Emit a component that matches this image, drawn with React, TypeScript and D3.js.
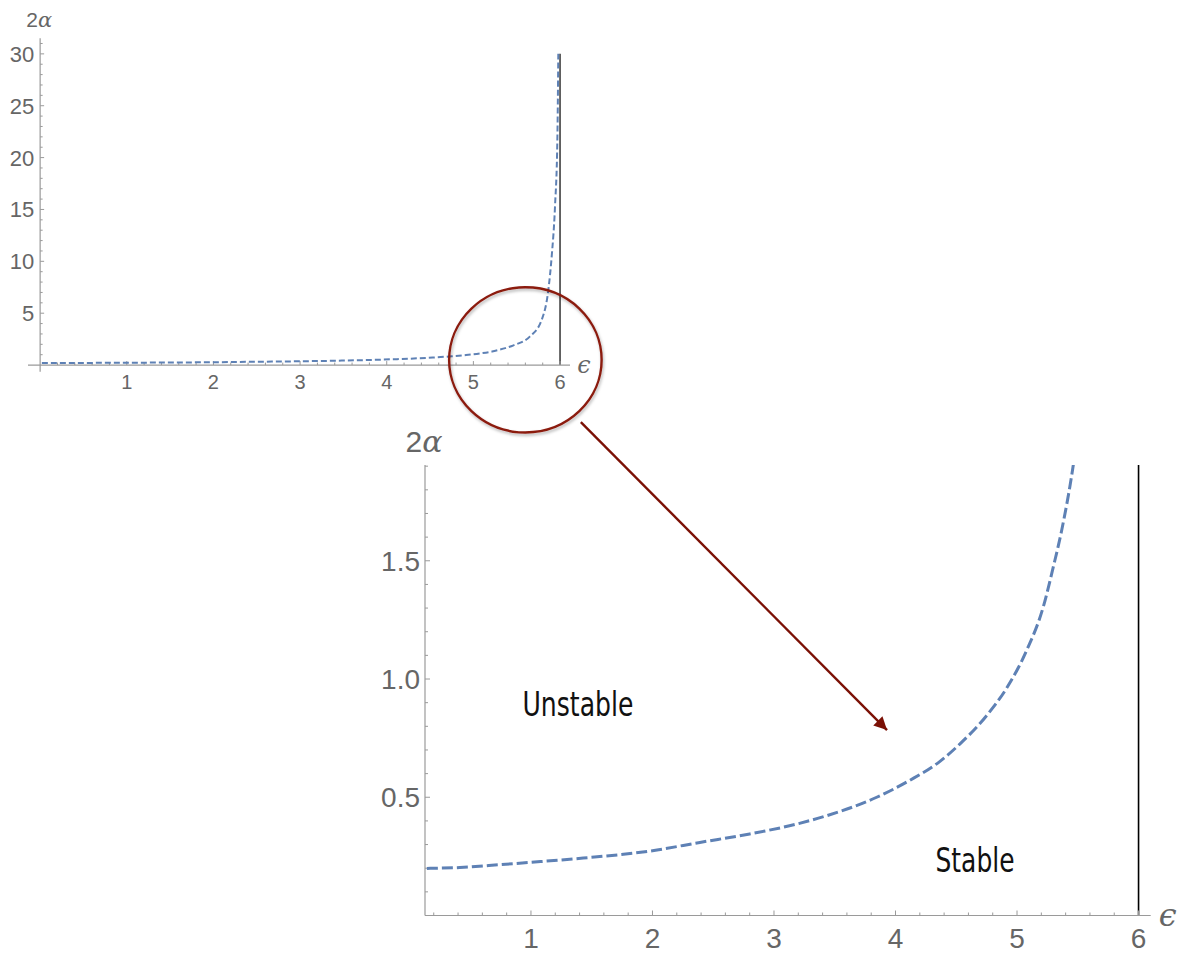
import React, { useEffect, useRef } from "react";
import * as d3 from "d3";

// stability boundary 2α(ε)
const eps = [0.02, 0.128, 0.415, 0.745, 1.0, 1.43, 2.0, 2.39, 2.8, 3.19, 3.434, 3.845, 4.119, 4.366, 4.531, 4.751, 4.915, 5.08, 5.216, 5.299, 5.368, 5.463, 5.654, 5.789, 5.865, 5.904, 5.942, 5.969, 5.98];
const twoAlpha = [0.198, 0.199, 0.203, 0.215, 0.225, 0.243, 0.274, 0.309, 0.345, 0.387, 0.422, 0.5, 0.572, 0.652, 0.726, 0.846, 0.962, 1.122, 1.305, 1.475, 1.63, 1.905, 2.77, 4.37, 7.25, 10.5, 15.3, 21.7, 30];

const asymptote = 6;

// overview panel ticks
const topXTicks = [1, 2, 3, 4, 5, 6];
const topYTicks = [5, 10, 15, 20, 25, 30];
// zoomed panel ticks
const zoomXTicks = [1, 2, 3, 4, 5, 6];
const zoomYTicks = [0.5, 1.0, 1.5];

const regionLabels = ["Unstable", "Stable"];
const regionEps = [1.387, 4.654];
const regionAlpha = [0.894, 0.235];

// magnifier annotation (overview coords) and arrow (overview -> zoom coords)
const lensCenter = [5.6, 0.5];
const lensRadius = [0.88, 7.0];
const arrowFrom = [6.24, -5.5];
const arrowTo = [3.93, 0.784];

const BLUE = "#5e81b5";
const GRAY = "#666";
const FONT = "'Liberation Sans', Arial, sans-serif";

export default function App() {
  const ref = useRef<SVGSVGElement>(null);

  useEffect(() => {
    const svg = d3.select(ref.current);
    svg.selectAll("*").remove();
    const defs = svg.append("defs");
    const pts = eps.map((e, i) => [e, twoAlpha[i]] as [number, number]);

    const isMajor = (v: number, step: number) => Math.abs(v / step - Math.round(v / step)) < 1e-6;

    function panel(cfg: any) {
      const { x, y, id, ox } = cfg;
      const g = svg.append("g");
      const [xl, xr] = x.range();
      const [yb, yt] = y.range();

      defs.append("clipPath").attr("id", id)
        .append("rect").attr("x", x(ox)).attr("y", yt).attr("width", xr - x(ox)).attr("height", y(0) - yt + 2);

      // asymptote
      g.append("line")
        .attr("x1", x(asymptote)).attr("x2", x(asymptote))
        .attr("y1", y(0)).attr("y2", y(cfg.asymTop))
        .attr("stroke", "#000").attr("stroke-width", cfg.asymW);

      // axes
      g.append("line").attr("x1", xl).attr("x2", xr).attr("y1", y(0)).attr("y2", y(0))
        .attr("stroke", "#9a9a9a").attr("stroke-width", 1.2);
      g.append("line").attr("x1", x(ox)).attr("x2", x(ox)).attr("y1", yb).attr("y2", yt)
        .attr("stroke", "#9a9a9a").attr("stroke-width", 1.2);

      const xMinor = d3.range(cfg.xMinorStep, asymptote + 1e-6, cfg.xMinorStep).filter((v) => v > ox && !isMajor(v, 1));
      const yMinor = d3.range(cfg.yMinorStep, y.domain()[1], cfg.yMinorStep).filter((v) => !isMajor(v, cfg.yMajorStep));

      g.selectAll(null).data(xMinor).join("line")
        .attr("x1", (d) => x(d)).attr("x2", (d) => x(d))
        .attr("y1", y(0)).attr("y2", y(0) - cfg.minorLen)
        .attr("stroke", "#9a9a9a");
      g.selectAll(null).data(cfg.xTicks).join("line")
        .attr("x1", (d: number) => x(d)).attr("x2", (d: number) => x(d))
        .attr("y1", y(0)).attr("y2", y(0) - cfg.majorLen)
        .attr("stroke", "#9a9a9a");
      g.selectAll(null).data(yMinor).join("line")
        .attr("x1", x(ox)).attr("x2", x(ox) + cfg.minorLen)
        .attr("y1", (d) => y(d)).attr("y2", (d) => y(d))
        .attr("stroke", "#9a9a9a");
      g.selectAll(null).data(cfg.yTicks).join("line")
        .attr("x1", x(ox)).attr("x2", x(ox) + cfg.majorLen)
        .attr("y1", (d: number) => y(d)).attr("y2", (d: number) => y(d))
        .attr("stroke", "#9a9a9a");

      g.selectAll(null).data(cfg.xTicks).join("text")
        .attr("x", (d: number) => x(d)).attr("y", y(0) + cfg.xLabelDy)
        .attr("text-anchor", "middle").attr("fill", GRAY)
        .attr("font-family", FONT).attr("font-size", cfg.xFs)
        .text((d: number) => d);
      g.selectAll(null).data(cfg.yTicks).join("text")
        .attr("x", x(ox) - cfg.yLabelGap).attr("y", (d: number) => y(d) + cfg.yLabelDy)
        .attr("text-anchor", "end").attr("fill", GRAY)
        .attr("font-family", FONT).attr("font-size", cfg.yFs)
        .text((d: number) => cfg.yFmt(d));

      // axis labels
      const yl = g.append("text").attr("x", x(ox) + cfg.yTitleDx).attr("y", yt + cfg.yTitleDy)
        .attr("text-anchor", "middle").attr("fill", GRAY)
        .attr("font-family", FONT).attr("font-size", cfg.titleFs);
      yl.append("tspan").text("2");
      yl.append("tspan").attr("font-style", "italic").attr("font-family", "'DejaVu Serif', serif").text("α");
      g.append("text").attr("x", xr + cfg.xTitleDx).attr("y", y(0) + cfg.xTitleDy)
        .attr("text-anchor", "middle").attr("fill", GRAY)
        .attr("font-family", "'DejaVu Serif', serif").attr("font-style", "italic")
        .attr("font-size", cfg.epsFs).text("ϵ");

      // curve
      g.append("path").datum(pts)
        .attr("clip-path", `url(#${id})`)
        .attr("d", d3.line<[number, number]>().x((d) => x(d[0])).y((d) => y(d[1])).curve(d3.curveMonotoneX))
        .attr("fill", "none").attr("stroke", BLUE)
        .attr("stroke-width", cfg.curveW).attr("stroke-dasharray", cfg.dash);
      return g;
    }

    const xTop = d3.scaleLinear().domain([-0.14, 6.115]).range([28, 570]);
    const yTop = d3.scaleLinear().domain([-0.64, 31.5]).range([371.7, 38.3]);
    panel({
      x: xTop, y: yTop, id: "clipTop", ox: 0,
      asymTop: 30, asymW: 1.2,
      xTicks: topXTicks, yTicks: topYTicks, xMinorStep: 0.2, yMinorStep: 1, yMajorStep: 5,
      majorLen: 4, minorLen: 2.5,
      xFs: 20, yFs: 22, titleFs: 21, epsFs: 24, xLabelDy: 24, yLabelGap: 6, yLabelDy: 8,
      yFmt: (d: number) => d, yTitleDx: -1, yTitleDy: -11, xTitleDx: 14, xTitleDy: 8,
      curveW: 2, dash: "6,3",
    });

    const xZoom = d3.scaleLinear().domain([0.128, 6.1]).range([425, 1150.7]);
    const yZoom = d3.scaleLinear().domain([0, 1.905]).range([915.5, 465]);
    const gz = panel({
      x: xZoom, y: yZoom, id: "clipZoom", ox: 0.128,
      asymTop: 1.905, asymW: 1.6,
      xTicks: zoomXTicks, yTicks: zoomYTicks, xMinorStep: 0.2, yMinorStep: 0.1, yMajorStep: 0.5,
      majorLen: 5, minorLen: 3,
      xFs: 28, yFs: 28, titleFs: 30, epsFs: 32, xLabelDy: 32, yLabelGap: 5, yLabelDy: 10,
      yFmt: d3.format(".1f"), yTitleDx: -1, yTitleDy: -13, xTitleDx: 17, xTitleDy: 10,
      curveW: 3, dash: "11,4",
    });

    const labelWidths = [111, 79];
    gz.selectAll(null).data(regionLabels).join("text")
      .attr("x", (_, i) => xZoom(regionEps[i]) - labelWidths[i] / 2).attr("y", (_, i) => yZoom(regionAlpha[i]))
      .attr("dominant-baseline", "central")
      .attr("textLength", (_, i) => labelWidths[i]).attr("lengthAdjust", "spacingAndGlyphs")
      .attr("font-family", "'DejaVu Sans', sans-serif")
      .attr("font-size", 34).attr("fill", "#111")
      .text((d) => d);

    // magnifier lens
    const shadow = defs.append("filter").attr("id", "lensShadow").attr("x", "-20%").attr("y", "-20%").attr("width", "140%").attr("height", "140%");
    shadow.append("feDropShadow").attr("dx", 1).attr("dy", 2).attr("stdDeviation", 1.5)
      .attr("flood-color", "#000").attr("flood-opacity", 0.3);
    svg.append("ellipse")
      .attr("cx", xTop(lensCenter[0])).attr("cy", yTop(lensCenter[1]))
      .attr("rx", xTop(lensCenter[0] + lensRadius[0]) - xTop(lensCenter[0]))
      .attr("ry", yTop(lensCenter[1]) - yTop(lensCenter[1] + lensRadius[1]))
      .attr("fill", "none").attr("stroke", "#8b1a10").attr("stroke-width", 2.4)
      .attr("filter", "url(#lensShadow)");

    // arrow
    const marker = defs.append("marker").attr("id", "arrowHead")
      .attr("viewBox", "0 0 10 10").attr("refX", 10).attr("refY", 5)
      .attr("markerUnits", "userSpaceOnUse").attr("markerWidth", 17).attr("markerHeight", 13)
      .attr("orient", "auto");
    marker.append("path").attr("d", "M0,0 L10,5 L0,10 Z").attr("fill", "#7b1005");
    svg.append("line")
      .attr("x1", xTop(arrowFrom[0])).attr("y1", yTop(arrowFrom[1]))
      .attr("x2", xZoom(arrowTo[0])).attr("y2", yZoom(arrowTo[1]))
      .attr("stroke", "#7b1005").attr("stroke-width", 2.4)
      .attr("marker-end", "url(#arrowHead)");
  }, []);

  return (
    <svg
      ref={ref}
      width={1187}
      height={954}
      style={{ position: "absolute", left: 0, top: 0, background: "#fff" }}
    />
  );
}
